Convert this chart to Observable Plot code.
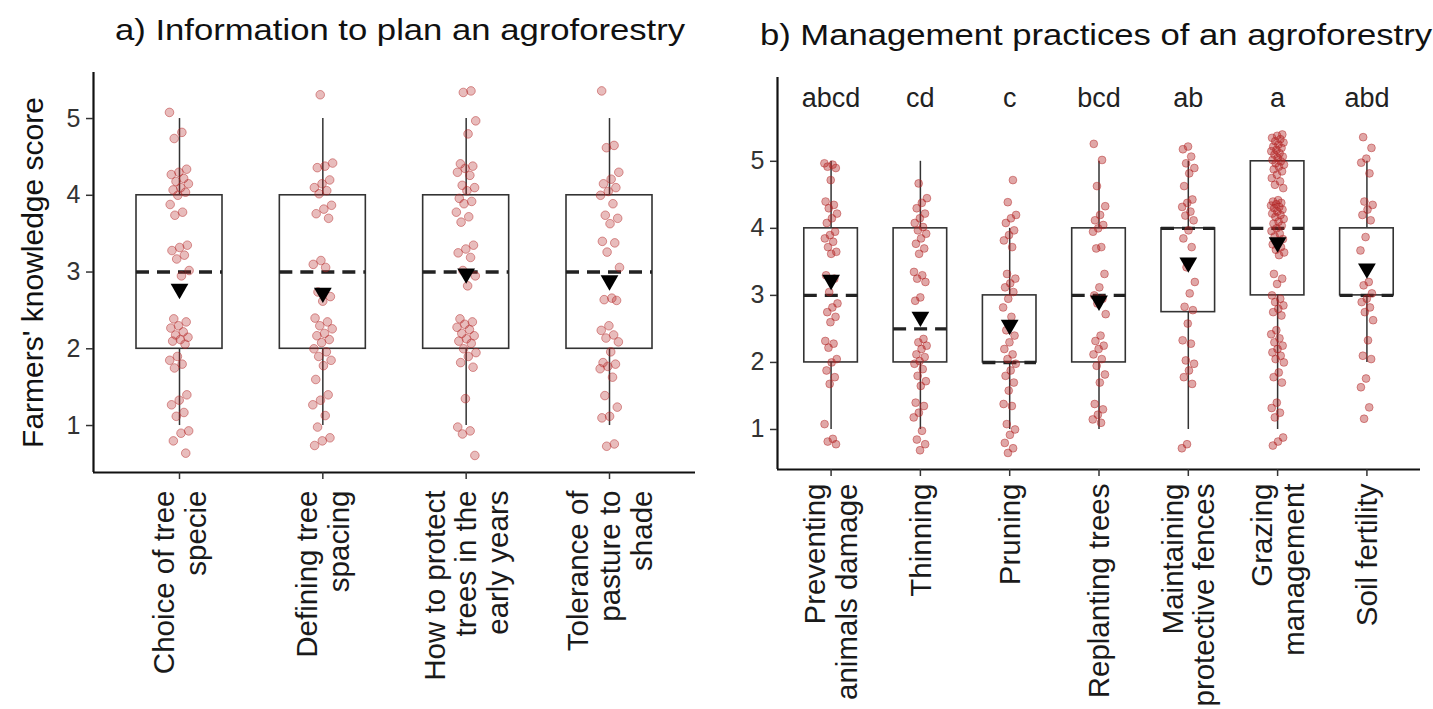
<!DOCTYPE html>
<html>
<head>
<meta charset="utf-8">
<script src="https://cdn.jsdelivr.net/npm/d3@7"></script>
<script src="https://cdn.jsdelivr.net/npm/@observablehq/plot@0.6"></script>
<style>
  html, body { margin: 0; padding: 0; background: #fff; }
  body { width: 1433px; height: 709px; position: relative; overflow: hidden; font-family: "Liberation Sans", Arial, sans-serif; }
  .title { position: absolute; font-size: 30px; line-height: 30px; color: #111; white-space: nowrap; transform: translateX(-50%) scaleX(1.155); }
  #titleA { left: 400px; top: 15px; }
  #titleB { left: 1096px; top: 20px; }
  #left { position: absolute; left: 0; top: 60px; }
  #right { position: absolute; left: 720px; top: 60px; }
</style>
</head>
<body>
<div id="titleA" class="title">a) Information to plan an agroforestry</div>
<div id="titleB" class="title">b) Management practices of an agroforestry</div>
<div id="left"></div>
<div id="right"></div>
<script>
// ---------- Panel a) data ----------
const infoCategories = ["Choice of tree\nspecie", "Defining tree\nspacing", "How to protect\ntrees in the\nearly years", "Tolerance of\npasture to\nshade"];
const infoQ1 = [2, 2, 2, 2];
const infoMedian = [3, 3, 3, 3];
const infoQ3 = [4, 4, 4, 4];
const infoLow = [1, 1, 1, 1];
const infoHigh = [5, 5, 5, 5];
const infoMean = [2.78, 2.73, 2.98, 2.89];
const infoPoints = [
  [5.08, 4.82, 4.74, 4.34, 4.3, 4.27, 4.22, 4.18, 4.15, 4.1, 4.07, 4.04, 4.0, 3.88, 3.78, 3.74, 3.35, 3.32, 3.28, 3.22, 3.17, 3.02, 2.95, 2.39, 2.35, 2.3, 2.27, 2.22, 2.18, 2.15, 2.12, 2.1, 2.06, 1.9, 1.85, 1.8, 1.75, 1.4, 1.33, 1.27, 1.17, 1.12, 0.93, 0.9, 0.8, 0.64],
  [5.31, 4.42, 4.38, 4.36, 4.2, 4.15, 4.1, 4.06, 4.02, 3.87, 3.82, 3.76, 3.7, 3.15, 3.1, 3.06, 2.74, 2.68, 2.62, 2.4, 2.35, 2.3, 2.26, 2.2, 2.17, 2.12, 2.08, 2.0, 1.96, 1.9, 1.85, 1.78, 1.6, 1.4, 1.33, 1.27, 1.13, 0.98, 0.84, 0.8, 0.74],
  [5.36, 5.34, 4.97, 4.8, 4.41, 4.38, 4.35, 4.3, 4.26, 4.13, 4.1, 4.06, 3.96, 3.92, 3.89, 3.78, 3.72, 3.65, 3.35, 3.3, 3.25, 3.19, 3.02, 2.95, 2.82, 2.39, 2.35, 2.32, 2.28, 2.25, 2.2, 2.17, 2.13, 2.1, 2.07, 2.0, 1.95, 1.9, 1.82, 1.76, 1.35, 0.98, 0.93, 0.89, 0.61],
  [5.36, 4.65, 4.62, 4.3, 4.21, 4.15, 4.1, 4.05, 4.0, 3.89, 3.74, 3.7, 3.63, 3.4, 3.38, 3.26, 3.06, 2.66, 2.64, 2.63, 2.3, 2.24, 2.18, 2.14, 2.09, 1.96, 1.82, 1.8, 1.77, 1.74, 1.63, 1.39, 1.24, 1.12, 1.1, 0.76, 0.73]
];

// ---------- Panel b) data ----------
const mgmtCategories = ["Preventing\nanimals damage", "Thinning", "Pruning", "Replanting trees", "Maintaining\nprotective fences", "Grazing\nmanagement", "Soil fertility"];
const mgmtLetters = ["abcd", "cd", "c", "bcd", "ab", "a", "abd"];
const mgmtQ1 = [2, 2, 2, 2, 2.75, 3, 3];
const mgmtMedian = [3, 2.5, 2, 3, 4, 4, 3];
const mgmtQ3 = [4, 4, 3, 4, 4, 5, 4];
const mgmtLow = [1, 1, 1, 1, 1, 1, 2];
const mgmtHigh = [5, 5, 4, 5, 5, 5, 5];
const mgmtMean = [3.23, 2.68, 2.56, 2.92, 3.49, 3.79, 3.40];
const mgmtPoints = [
  [4.97, 4.95, 4.92, 4.9, 4.72, 4.4, 4.35, 4.3, 4.22, 4.15, 4.08, 3.95, 3.9, 3.85, 3.8, 3.72, 3.65, 3.62, 3.3, 3.25, 3.05, 2.88, 2.82, 2.75, 2.68, 2.6, 2.32, 2.28, 2.22, 2.05, 2.0, 1.88, 1.78, 1.68, 1.08, 0.86, 0.82, 0.78],
  [4.67, 4.45, 4.38, 4.3, 4.22, 4.15, 4.08, 4.02, 3.97, 3.92, 3.85, 3.77, 3.7, 3.62, 3.35, 3.3, 3.25, 3.2, 2.97, 2.92, 2.35, 2.3, 2.25, 2.2, 2.12, 2.08, 2.02, 1.98, 1.9, 1.8, 1.72, 1.65, 1.4, 1.35, 1.25, 1.18, 0.98, 0.85, 0.78, 0.69],
  [4.72, 4.39, 4.2, 4.15, 4.08, 3.97, 3.9, 3.82, 3.72, 3.32, 3.25, 3.18, 3.12, 3.05, 2.95, 2.82, 2.68, 2.48, 2.4, 2.3, 2.2, 2.12, 2.05, 1.98, 1.88, 1.8, 1.7, 1.58, 1.38, 1.35, 1.08, 1.0, 0.92, 0.8, 0.72, 0.65],
  [5.26, 5.02, 4.63, 4.33, 4.2, 4.12, 4.05, 4.0, 3.95, 3.72, 3.7, 3.32, 3.12, 3.0, 2.95, 2.88, 2.72, 2.4, 2.32, 2.25, 2.2, 2.12, 2.05, 1.95, 1.82, 1.7, 1.38, 1.3, 1.22, 1.15, 1.1],
  [5.22, 5.18, 5.07, 4.97, 4.9, 4.82, 4.63, 4.43, 4.38, 4.32, 4.25, 4.19, 4.12, 3.97, 3.85, 3.72, 3.42, 3.2, 3.03, 2.83, 2.78, 2.58, 2.33, 2.28, 2.03, 1.98, 1.88, 1.78, 1.68, 0.78, 0.72],
  [5.4, 5.38, 5.35, 5.33, 5.3, 5.28, 5.25, 5.22, 5.2, 5.17, 5.15, 5.12, 5.1, 5.07, 5.05, 5.02, 5.0, 4.97, 4.95, 4.92, 4.88, 4.85, 4.8, 4.75, 4.7, 4.65, 4.6,
   4.42, 4.4, 4.38, 4.36, 4.34, 4.32, 4.3, 4.28, 4.25, 4.22, 4.2, 4.17, 4.14, 4.1, 4.07, 4.04, 4.0, 3.96, 3.92, 3.88, 3.84, 3.8, 3.76, 3.72, 3.68, 3.64, 3.6,
   3.32, 3.25, 3.17, 3.0, 2.95, 2.9, 2.85, 2.8, 2.75, 2.7,
   2.48, 2.42, 2.36, 2.3, 2.25, 2.2, 2.15, 2.1, 2.05, 2.0, 1.85, 1.78, 1.7,
   1.4, 1.32, 1.25, 1.18, 0.88, 0.82, 0.76],
  [5.36, 5.2, 5.04, 4.98, 4.82, 4.4, 4.35, 4.28, 4.2, 4.12, 3.87, 3.67, 3.2, 3.15, 3.03, 2.95, 2.9, 2.82, 2.75, 2.63, 2.33, 2.1, 2.05, 1.76, 1.63, 1.33, 1.16]
];

const yTicks = [1, 2, 3, 4, 5];
const FONT = "'Liberation Sans', Arial, Helvetica, sans-serif";

function panel(o) {
  const n = o.cats.length;
  const idx = d3.range(1, n + 1);
  const stats = idx.map((i, k) => ({
    i, q1: o.q1[k], med: o.med[k], q3: o.q3[k], low: o.low[k], high: o.high[k],
    mean: o.mean[k], label: o.cats[k], letter: o.letters ? o.letters[k] : ""
  }));
  const pts = o.points.flatMap((arr, k) => arr.map((v, j) => ({
    i: k + 1, v, off: (((j * 0.6180339887 + k * 0.37) % 1) - 0.5) * 2 * o.jw
  })));
  const hw = 0.3;
  const marks = [
    Plot.ruleX(stats, {x: "i", y1: "q3", y2: "high", stroke: "#333", strokeWidth: 1.5}),
    Plot.ruleX(stats, {x: "i", y1: "low", y2: "q1", stroke: "#333", strokeWidth: 1.5}),
    Plot.rect(stats, {x1: d => d.i - hw, x2: d => d.i + hw, y1: "q1", y2: "q3", fill: "none", stroke: "#333", strokeWidth: 1.6}),
    Plot.ruleY(stats, {y: "med", x1: d => d.i - hw, x2: d => d.i + hw, stroke: "#222", strokeWidth: 3.4, strokeDasharray: "13,8"}),
    Plot.dot(pts, {x: d => d.i + d.off, y: "v", r: o.r, fill: "#b22222", fillOpacity: o.fo, stroke: "#b22222", strokeOpacity: 0.45, strokeWidth: 1}),
    Plot.dot(stats, {x: "i", y: "mean", symbol: "triangle", rotate: 180, r: 6.6, fill: "black", stroke: "none"}),
    Plot.ruleX([0.4], {stroke: "#111", strokeWidth: 2.2}),
    Plot.ruleY([o.yDomain[0]], {stroke: "#111", strokeWidth: 2.2}),
    Plot.axisY({ticks: yTicks, tickFormat: d3.format("d"), tickSize: 7, tickPadding: 6, fontSize: 25, label: null, strokeWidth: 1.5, color: "#333"}),
    Plot.axisX({ticks: idx, tickSize: 7, tickFormat: () => "", label: null, strokeWidth: 1.5}),
    Plot.text(stats, {x: "i", text: "label", frameAnchor: "bottom", rotate: -90, textAnchor: "end", lineAnchor: "middle", dy: o.labelDy, fontSize: 29.5, lineHeight: 1.08, fill: "#1a1a1a"})
  ];
  if (o.letters) marks.push(Plot.text(stats, {x: "i", y: () => o.letterY, text: "letter", fontSize: 27, fill: "#222"}));
  if (o.yLabel) marks.push(Plot.text([o.yLabel], {text: d => d, frameAnchor: "left", textAnchor: "middle", lineAnchor: "middle", rotate: -90, dx: o.yLabelDx, fontSize: 30, fill: "#111"}));
  return Plot.plot({
    width: o.width, height: o.height,
    marginTop: o.marginTop, marginBottom: o.marginBottom, marginLeft: o.marginLeft, marginRight: o.marginRight,
    x: {type: "linear", domain: [0.4, n + 0.6]},
    y: {domain: o.yDomain},
    style: {fontFamily: FONT, fontSize: "25px", color: "#333", background: "white", overflow: "visible"},
    marks
  });
}

document.getElementById("left").appendChild(panel({
  cats: infoCategories, q1: infoQ1, med: infoMedian, q3: infoQ3, low: infoLow, high: infoHigh,
  mean: infoMean, points: infoPoints, r: 4.3, jw: 0.07, fo: 0.3,
  width: 720, height: 649, marginTop: 12, marginBottom: 237, marginLeft: 93, marginRight: 25,
  yDomain: [0.388, 5.6], labelDy: 18, yLabel: "Farmers' knowledge score", yLabelDx: -60
}));

document.getElementById("right").appendChild(panel({
  cats: mgmtCategories, q1: mgmtQ1, med: mgmtMedian, q3: mgmtQ3, low: mgmtLow, high: mgmtHigh,
  mean: mgmtMean, points: mgmtPoints, r: 3.9, jw: 0.075, fo: 0.4, letters: mgmtLetters, letterY: 5.94,
  width: 713, height: 649, marginTop: 17, marginBottom: 240, marginLeft: 57, marginRight: 13,
  yDomain: [0.403, 6.25], labelDy: 14
}));
</script>
</body>
</html>
